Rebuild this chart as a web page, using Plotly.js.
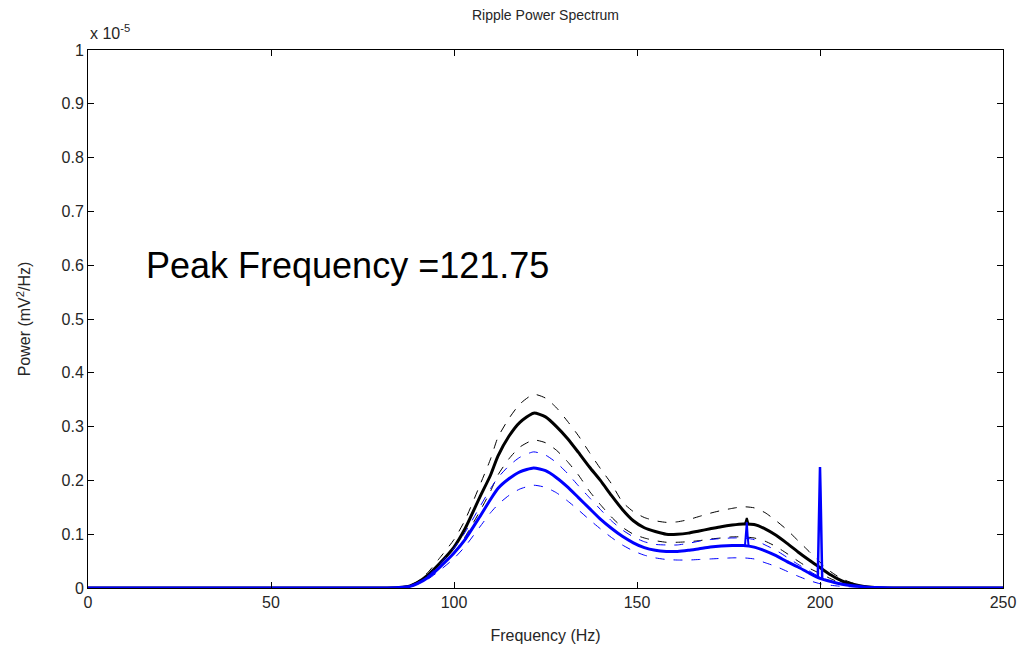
<!DOCTYPE html>
<html>
<head>
<meta charset="utf-8">
<script src="https://cdn.plot.ly/plotly-3.0.1.min.js"></script>
<style>html,body{margin:0;padding:0;background:#fff;}#chart{width:1027px;height:656px;}</style>
</head>
<body>
<div id="chart"></div>
<script>
// Frequency (Hz)
const freq = [0, 80, 85, 88, 90, 93, 96, 100, 103, 107, 110, 112, 115, 118, 121.75, 125, 128, 131, 134, 137, 140, 143, 146, 149, 152, 155, 158, 161, 164, 167, 170, 173, 176, 179, 182, 185, 188, 191, 194, 197, 200, 203, 206, 209, 212, 215, 220, 250];
// Power (x 1e-5 mV^2/Hz)
const blackMean  = [0, 0, 0.001, 0.004, 0.01, 0.025, 0.045, 0.076, 0.11, 0.168, 0.21, 0.245, 0.282, 0.308, 0.325, 0.318, 0.3, 0.278, 0.252, 0.225, 0.2, 0.172, 0.146, 0.125, 0.112, 0.105, 0.1, 0.1, 0.102, 0.106, 0.11, 0.114, 0.117, 0.119, 0.118, 0.11, 0.098, 0.083, 0.067, 0.052, 0.038, 0.024, 0.013, 0.007, 0.003, 0.001, 0, 0];
const blackUpper = [0, 0, 0.001, 0.005, 0.012, 0.03, 0.055, 0.09, 0.126, 0.19, 0.24, 0.28, 0.315, 0.342, 0.36, 0.353, 0.335, 0.31, 0.283, 0.252, 0.222, 0.194, 0.16, 0.142, 0.131, 0.125, 0.122, 0.123, 0.127, 0.133, 0.139, 0.144, 0.148, 0.151, 0.149, 0.14, 0.125, 0.108, 0.088, 0.068, 0.048, 0.03, 0.017, 0.009, 0.004, 0.001, 0, 0];
const blackLower = [0, 0, 0.001, 0.003, 0.009, 0.022, 0.04, 0.066, 0.095, 0.142, 0.18, 0.21, 0.24, 0.262, 0.275, 0.27, 0.256, 0.235, 0.21, 0.18, 0.155, 0.132, 0.113, 0.1, 0.093, 0.088, 0.085, 0.085, 0.086, 0.088, 0.091, 0.093, 0.095, 0.095, 0.093, 0.087, 0.077, 0.064, 0.05, 0.037, 0.027, 0.017, 0.009, 0.005, 0.002, 0.001, 0, 0];
const blueMean   = [0, 0, 0.001, 0.003, 0.008, 0.02, 0.038, 0.065, 0.09, 0.132, 0.165, 0.185, 0.203, 0.216, 0.223, 0.218, 0.205, 0.188, 0.168, 0.148, 0.128, 0.111, 0.096, 0.084, 0.075, 0.07, 0.068, 0.068, 0.07, 0.073, 0.076, 0.078, 0.079, 0.079, 0.076, 0.069, 0.06, 0.049, 0.039, 0.028, 0.018, 0.012, 0.007, 0.004, 0.002, 0.001, 0, 0];
const blueUpper  = [0, 0, 0.001, 0.004, 0.01, 0.024, 0.044, 0.074, 0.103, 0.15, 0.185, 0.205, 0.227, 0.243, 0.253, 0.247, 0.233, 0.213, 0.19, 0.168, 0.146, 0.125, 0.108, 0.095, 0.086, 0.081, 0.08, 0.08, 0.083, 0.087, 0.09, 0.092, 0.093, 0.093, 0.09, 0.08, 0.07, 0.057, 0.044, 0.032, 0.02, 0.013, 0.008, 0.004, 0.002, 0.001, 0, 0];
const blueLower  = [0, 0, 0.001, 0.003, 0.007, 0.017, 0.032, 0.055, 0.077, 0.113, 0.14, 0.155, 0.172, 0.184, 0.191, 0.187, 0.177, 0.162, 0.145, 0.127, 0.11, 0.094, 0.08, 0.069, 0.061, 0.056, 0.053, 0.052, 0.052, 0.053, 0.054, 0.055, 0.056, 0.056, 0.054, 0.047, 0.04, 0.031, 0.022, 0.014, 0.008, 0.005, 0.003, 0.002, 0.001, 0, 0, 0];
// Narrow line-noise spikes
const blackSpikeFreq = [179.5, 180, 180.5];
const blackSpikeVal  = [0.119, 0.13, 0.118];
const blueSpikeFreq  = [179.5, 179.75, 180, 180.25, 180.5];
const blueSpikeVal   = [0.079, 0.1, 0.122, 0.095, 0.077];
const blue200Freq    = [199.4, 199.7, 199.85, 200, 200.15, 200.3, 200.6];
const blue200Val     = [0.02, 0.12, 0.18, 0.225, 0.18, 0.1, 0.016];

const xTicks = [0, 50, 100, 150, 200, 250];
const yTicks = [0, 0.1, 0.2, 0.3, 0.4, 0.5, 0.6, 0.7, 0.8, 0.9, 1];
const peakText = "Peak Frequency =121.75";

const BLUE = "#0000ff", BLACK = "#000000";
function ln(x, y, color, width, dash, shape) {
  return {x: x, y: y, type: "scatter", mode: "lines", hoverinfo: "skip",
          line: {color: color, width: width, dash: dash || "solid", shape: shape || "linear", smoothing: 0.6},
          showlegend: false};
}
const traces = [
  ln(freq, blackUpper, BLACK, 1, "dash", "spline"),
  ln(freq, blackLower, BLACK, 1, "dash", "spline"),
  ln(freq, blackMean, BLACK, 3, "solid", "spline"),
  ln(blackSpikeFreq, blackSpikeVal, BLACK, 2),
  ln(freq, blueUpper, BLUE, 1, "dash", "spline"),
  ln(freq, blueLower, BLUE, 1, "dash", "spline"),
  ln(freq, blueMean, BLUE, 3, "solid", "spline"),
  ln(blueSpikeFreq, blueSpikeVal, BLUE, 2),
  ln(blue200Freq, blue200Val, BLUE, 2.5)
];
const font = "Arial, 'Liberation Sans', sans-serif";
const TXT = "#262626";
const layout = {
  width: 1027, height: 656,
  margin: {l: 88, r: 24, t: 50, b: 68},
  paper_bgcolor: "#fff", plot_bgcolor: "#fff",
  font: {family: font, size: 14, color: TXT},
  title: {text: "Ripple Power Spectrum", x: 0.5, xref: "paper", y: 0.977, yanchor: "middle",
          font: {family: font, size: 14, color: TXT}},
  xaxis: {range: [0, 250], tickvals: xTicks, ticktext: xTicks.map(String),
          showgrid: false, zeroline: false, showline: true, mirror: "ticks", linecolor: "#000", linewidth: 1,
          ticks: "inside", ticklen: 6, tickcolor: "#000",
          tickfont: {family: font, size: 16, color: TXT},
          title: {text: "Frequency (Hz)", standoff: 19, font: {family: font, size: 16, color: TXT}}},
  yaxis: {range: [0, 1], tickvals: yTicks, ticktext: yTicks.map(String),
          showgrid: false, zeroline: false, showline: true, mirror: "ticks", linecolor: "#000", linewidth: 1,
          ticks: "inside", ticklen: 6, tickcolor: "#000",
          tickfont: {family: font, size: 16, color: TXT},
          title: {text: "Power (mV<sup>2</sup>/Hz)", standoff: 26, font: {family: font, size: 16, color: TXT}}},
  annotations: [
    {text: "x 10<sup>-5</sup>", xref: "paper", yref: "paper", x: 0, y: 1, xanchor: "left", yanchor: "bottom",
     yshift: 6, showarrow: false, font: {family: font, size: 16, color: TXT}},
    {text: peakText, xref: "x", yref: "y", x: 15.2, y: 0.6, xanchor: "left", yanchor: "middle",
     showarrow: false, font: {family: font, size: 36, color: "#000"}}
  ]
};
Plotly.newPlot("chart", traces, layout, {staticPlot: true, displayModeBar: false});
</script>
</body>
</html>
